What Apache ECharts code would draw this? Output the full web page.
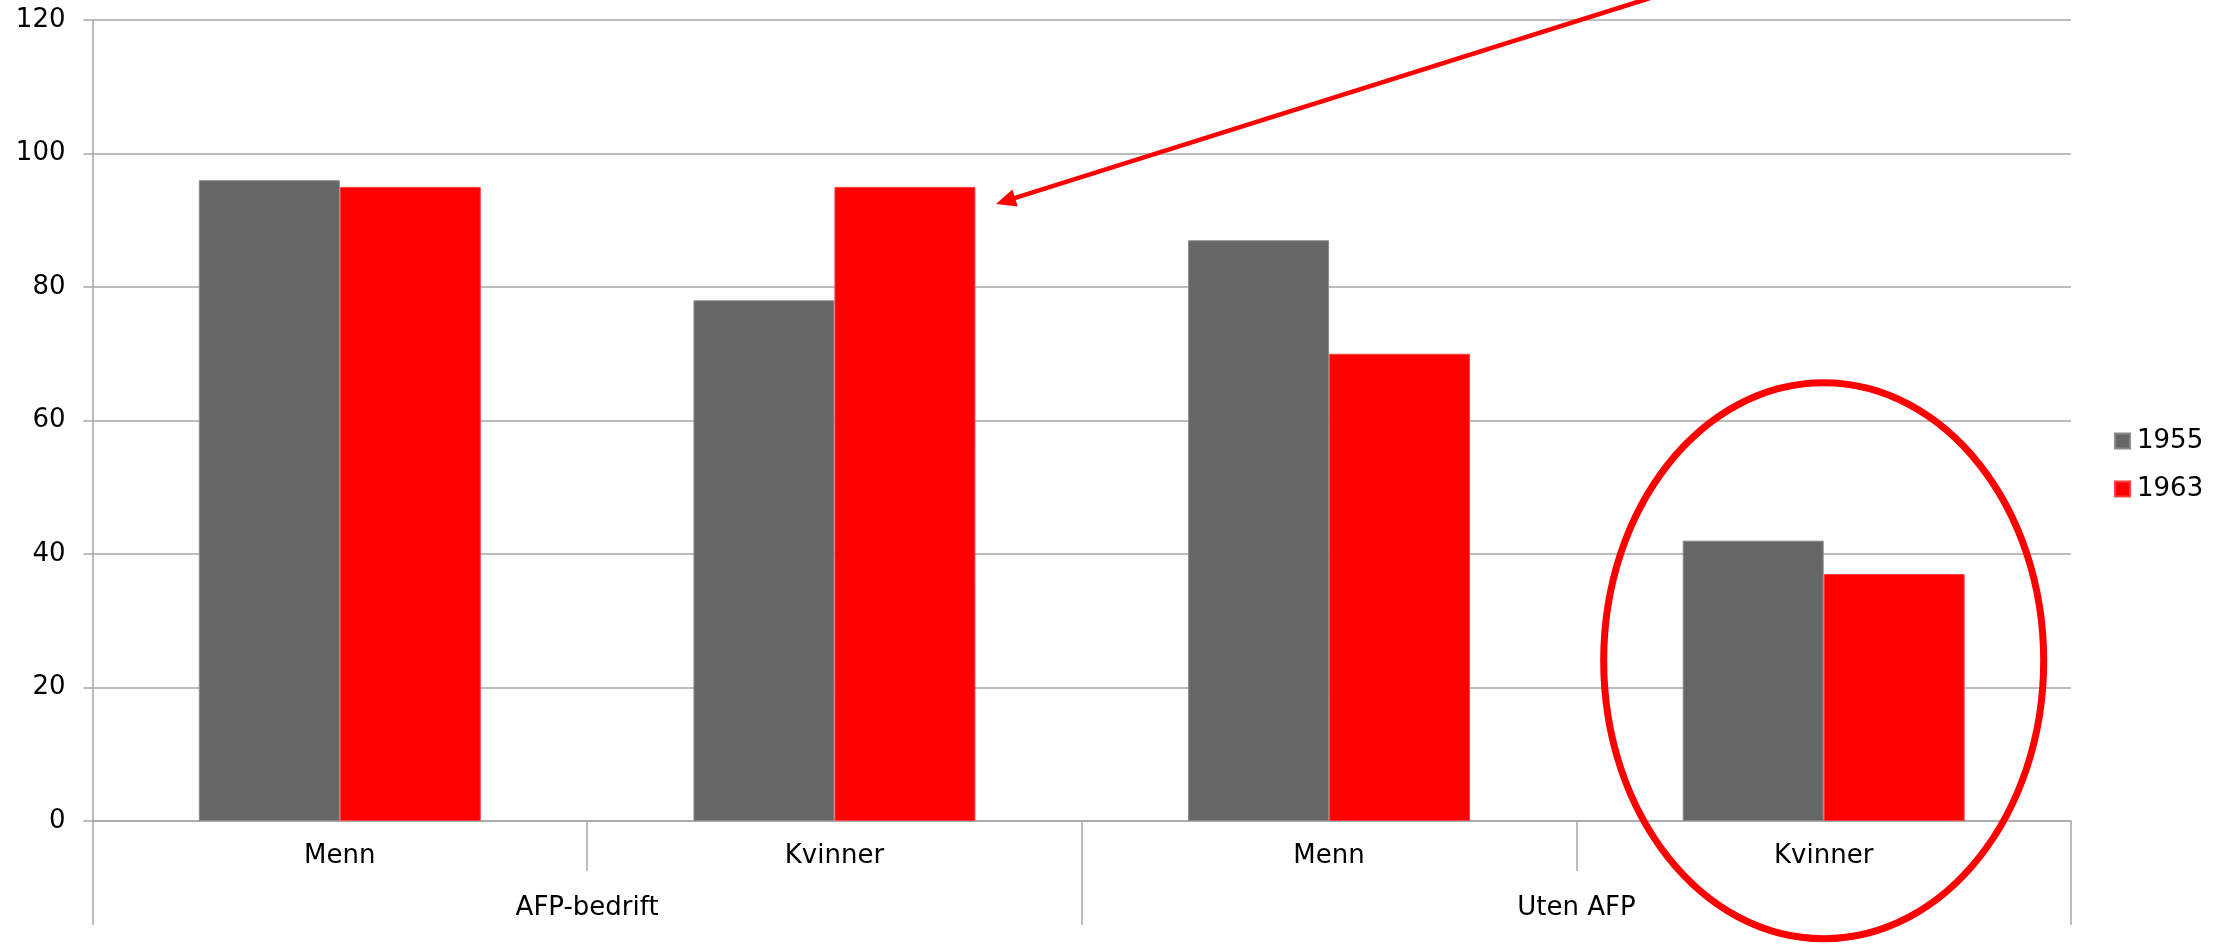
<!DOCTYPE html>
<html>
<head>
<meta charset="utf-8">
<script src="https://cdn.jsdelivr.net/npm/echarts@6/dist/echarts.min.js"></script>
<style>html,body{margin:0;padding:0;background:#fff;}#c{width:2231px;height:950px;}</style>
</head>
<body>
<div id="c"></div>
<script>
const subCategories = ['Menn', 'Kvinner', 'Menn', 'Kvinner'];
const groups = ['AFP-bedrift', 'Uten AFP'];
const seriesNames = ['1955', '1963'];
const values1955 = [96, 78, 87, 42];
const values1963 = [95, 95, 70, 37];
const yTicks = [0, 20, 40, 60, 80, 100, 120];

const FONT = '"DejaVu Sans", Verdana, sans-serif';
const AX = '#a6a6a6';
const chart = echarts.init(document.getElementById('c'), null, {renderer: 'canvas'});

const option = {
  animation: false,
  backgroundColor: '#ffffff',
  textStyle: {fontFamily: FONT},
  grid: {left: 92.5, right: 160, top: 20, bottom: 129, containLabel: false},
  legend: {
    orient: 'vertical',
    left: 2109,
    top: 423,
    itemWidth: 15,
    itemHeight: 15,
    itemGap: 22,
    icon: 'rect',
    data: seriesNames,
    textStyle: {fontFamily: FONT, fontSize: 26, color: '#000', lineHeight: 26, padding: [0, 0, 0, 2]}
  },
  xAxis: [
    {
      type: 'category',
      data: subCategories,
      position: 'bottom',
      axisLine: {show: true, lineStyle: {color: AX, width: 1.5}},
      axisTick: {show: true, length: 50, alignWithLabel: false, lineStyle: {color: AX, width: 1.5}},
      axisLabel: {fontFamily: FONT, fontSize: 26, color: '#000', margin: 22, lineHeight: 26},
      splitLine: {show: false}
    },
    {
      type: 'category',
      data: groups,
      position: 'bottom',
      gridIndex: 0,
      axisLine: {show: false},
      axisTick: {show: true, length: 104, alignWithLabel: false, lineStyle: {color: AX, width: 1.5}},
      axisLabel: {fontFamily: FONT, fontSize: 26, color: '#000', margin: 74, lineHeight: 26},
      splitLine: {show: false}
    }
  ],
  yAxis: {
    type: 'value',
    min: yTicks[0],
    max: yTicks[yTicks.length - 1],
    interval: 20,
    axisLine: {show: true, lineStyle: {color: AX, width: 1.5}},
    axisTick: {show: true, length: 9, lineStyle: {color: AX, width: 1.5}},
    axisLabel: {fontFamily: FONT, fontSize: 26, color: '#000', margin: 27},
    splitLine: {show: true, lineStyle: {color: AX, width: 1.5}}
  },
  series: [
    {
      name: seriesNames[0], type: 'bar', xAxisIndex: 0, data: values1955,
      barGap: '0%', barCategoryGap: '43%',
      itemStyle: {color: '#666666', borderColor: '#8a8a8a', borderWidth: 1}
    },
    {
      name: seriesNames[1], type: 'bar', xAxisIndex: 0, data: values1963,
      barGap: '0%', barCategoryGap: '43%',
      itemStyle: {color: '#ff0000', borderColor: '#ff4040', borderWidth: 1}
    }
  ]
};
chart.setOption(option);

// Annotations: arrow pointing at the AFP-bedrift Kvinner 1963 bar and ellipse around Uten AFP Kvinner
const tip = [996, 204];
const start = [1650, -2];
const dx = start[0] - tip[0], dy = start[1] - tip[1];
const len = Math.sqrt(dx * dx + dy * dy);
const ux = dx / len, uy = dy / len;
const px = -uy, py = ux;
const hl = 20, hw = 9;
const base = [tip[0] + ux * hl, tip[1] + uy * hl];
const lineStart = [tip[0] + ux * (hl - 4), tip[1] + uy * (hl - 4)];

const ellipseCenter = chart.convertToPixel({xAxisIndex: 0, yAxisIndex: 0}, [3, 24]);

chart.setOption({
  graphic: [
    {
      type: 'line', z: 100,
      shape: {x1: lineStart[0], y1: lineStart[1], x2: start[0], y2: start[1]},
      style: {stroke: '#ff0000', lineWidth: 4.5}
    },
    {
      type: 'polygon', z: 100,
      shape: {points: [tip, [base[0] + px * hw, base[1] + py * hw], [base[0] - px * hw, base[1] - py * hw]]},
      style: {fill: '#ff0000'}
    },
    {
      type: 'ellipse', z: 100,
      shape: {cx: ellipseCenter[0], cy: ellipseCenter[1], rx: 220, ry: 278},
      style: {fill: null, stroke: '#ff0000', lineWidth: 7}
    }
  ]
});
</script>
</body>
</html>
